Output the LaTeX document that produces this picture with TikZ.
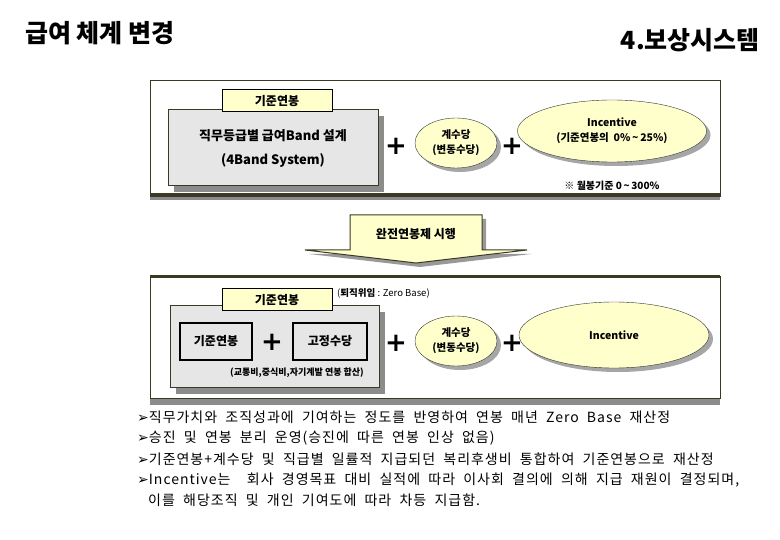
\documentclass[tikz,border=0pt]{standalone}
\usepackage{fontspec}
\newfontfamily\kr{Noto Sans CJK KR}
\newfontfamily\krwide[LetterSpace=7,WordSpace=2]{Noto Sans CJK KR}
\newfontfamily\sym{DejaVu Sans}
\usetikzlibrary{shapes.geometric,shadows}
\definecolor{lyellow}{HTML}{FFFFCC}
\definecolor{boxgray}{HTML}{E6E6E6}
\definecolor{olive}{HTML}{3A3A22}
\definecolor{shadowgray}{HTML}{8C8C8C}
\begin{document}
\begin{tikzpicture}[x=1pt,y=-1pt,font=\kr,
  panel/.style={draw=olive,line width=0.8pt,anchor=north west,inner sep=0pt},
  tag/.style={draw=black,fill=lyellow,line width=1pt,minimum width=110pt,minimum height=22pt,inner sep=0pt,font=\kr\bfseries\fontsize{12}{14}\selectfont},
  graybox/.style={draw=olive,fill=boxgray,line width=1pt,inner sep=0pt,drop shadow={shadow xshift=6pt,shadow yshift=-6pt,fill=shadowgray,opacity=1}},
  inbox/.style={draw=black,line width=1.4pt,minimum width=72pt,minimum height=37pt,inner sep=0pt,font=\kr\bfseries\fontsize{12}{14}\selectfont},
  oval/.style={ellipse,draw=black!80,fill=lyellow,inner sep=0pt,align=center,drop shadow={shadow xshift=4pt,shadow yshift=-4pt,fill=black!35,opacity=1},font=\kr\bfseries\fontsize{10.5}{15}\selectfont},
  plus/.style={font=\sym\bfseries\fontsize{26}{26}\selectfont,inner sep=0pt},
  small/.style={font=\kr\bfseries\fontsize{10}{12}\selectfont,inner sep=0pt},
  bullet/.style={anchor=west,inner sep=0pt,font=\krwide\fontsize{14}{16}\selectfont}]
\useasboundingbox (0,0) rectangle (780,540);
% titles
\node[anchor=west,inner sep=0pt,font=\kr\bfseries\fontsize{25}{28}\selectfont] (title) at (25,33) {급여 체계 변경};
\node[anchor=east,inner sep=0pt,font=\kr\bfseries\fontsize{25}{28}\selectfont] (sect) at (760,40) {4.보상시스템};
% top panel
\fill[shadowgray] (150,196) rectangle (720,200);
\node[panel,minimum width=570pt,minimum height=116pt] (ptop) at (150,80) {};
\fill[olive] (150,193) rectangle (720,196);
\node[graybox,minimum width=210pt,minimum height=76pt,align=center,font=\kr\bfseries\fontsize{13}{24}\selectfont] (g1) at (273,148) {직무등급별 급여Band 설계\\(4Band System)};
\node[tag] (l1) at (277,101) {기준연봉};
\node[plus] (p1) at (396,146) {+};
\node[oval,minimum width=82pt,minimum height=50pt] (e1) at (456,143) {계수당\\(변동수당)};
\node[plus] (p2) at (512,146) {+};
\node[oval,minimum width=189pt,minimum height=62pt] (e2) at (612,131) {Incentive\\(기준연봉의\ \ 0\%\,\textasciitilde\,25\%)};
\node[small] (n1) at (612,186) {※ 월봉기준 0\,\textasciitilde\,300\%};
% block arrow
\path[fill=black!40] (354,219) -- (486,219) -- (486,254) -- (531,254) -- (420,267) -- (309,254) -- (354,254) -- cycle;
\draw[draw=olive,fill=lyellow,line width=1pt] (350,215) -- (482,215) -- (482,250) -- (527,250) -- (416,263) -- (305,250) -- (350,250) -- cycle;
\node[font=\kr\bfseries\fontsize{12}{14}\selectfont,inner sep=0pt] (arr) at (416,234) {완전연봉제 시행};
% bottom panel
\fill[shadowgray] (150,398) rectangle (720,405);
\node[panel,minimum width=570pt,minimum height=122pt] (pbot) at (150,276) {};
\fill[olive] (150,275) rectangle (720,278);
\node[graybox,minimum width=209pt,minimum height=82pt] (g2) at (274.5,347) {};
\node[tag] (l2) at (277,300) {기준연봉};
\node[anchor=west,inner sep=0pt,font=\kr\fontsize{9.5}{11}\selectfont] (zb) at (337,293) {(\textbf{퇴직위임} : Zero Base)};
\node[inbox] (b1) at (216,341.5) {기준연봉};
\node[plus] (p3) at (272,342) {+};
\node[inbox,minimum width=74pt] (b2) at (330,341.5) {고정수당};
\node[small,font=\kr\bfseries\fontsize{9}{11}\selectfont] (n2) at (297,373) {(교통비,중식비,자기계발 연봉 합산)};
\node[plus] (p4) at (396,343) {+};
\node[oval,minimum width=82pt,minimum height=50pt] (e3) at (456,341) {계수당\\(변동수당)};
\node[plus] (p5) at (512,343) {+};
\node[oval,minimum width=190pt,minimum height=66pt] (e4) at (614,335) {Incentive};
% bullets
\node[bullet] (t1) at (137,417) {{\sym ➢}직무가치와 조직성과에 기여하는 정도를 반영하여 연봉 매년 Zero Base 재산정};
\node[bullet] (t2) at (137,438) {{\sym ➢}승진 및 연봉 분리 운영(승진에 따른 연봉 인상 없음)};
\node[bullet] (t3) at (137,459) {{\sym ➢}기준연봉+계수당 및 직급별 일률적 지급되던 복리후생비 통합하여 기준연봉으로 재산정};
\node[bullet] (t4) at (137,480) {{\sym ➢}Incentive는\ \ 회사 경영목표 대비 실적에 따라 이사회 결의에 의해 지급 재원이 결정되며,};
\node[bullet] (t5) at (148,500) {이를 해당조직 및 개인 기여도에 따라 차등 지급함.};
\end{tikzpicture}
\end{document}
